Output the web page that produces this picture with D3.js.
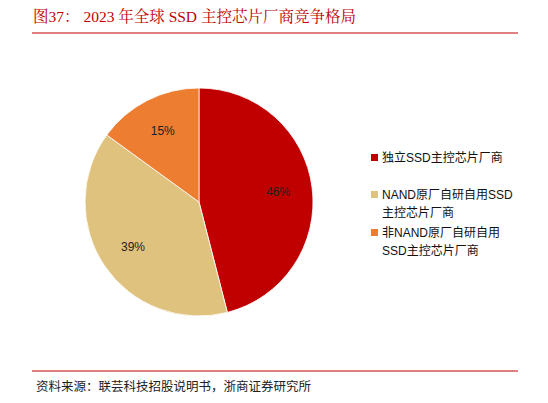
<!DOCTYPE html>
<html><head><meta charset="utf-8">
<script src="https://cdn.jsdelivr.net/npm/d3@7"></script>
<style>body{margin:0;background:#fff}</style></head>
<body><svg id="c" width="548" height="403"></svg>
<script>
const categories=["独立SSD主控芯片厂商","NAND原厂自研自用SSD主控芯片厂商","非NAND原厂自研自用SSD主控芯片厂商"];
const values=[46,39,15];
const colors=["#c00000","#dfc27d","#ed7d31"];
const legendLines=[["独立SSD主控芯片厂商"],["NAND原厂自研自用SSD","主控芯片厂商"],["非NAND原厂自研自用","SSD主控芯片厂商"]];
const svg=d3.select("#c");
const cjk="'Noto Sans CJK SC','Noto Sans',sans-serif";
svg.append("text").attr("x",33).attr("y",22).attr("fill","#c00000").attr("font-size",15.5)
 .attr("font-family","'Liberation Serif','Noto Serif CJK SC','Noto Sans CJK SC',serif").text("图37：  2023 年全球 SSD 主控芯片厂商竞争格局");
svg.append("line").attr("x1",32).attr("x2",518).attr("y1",33).attr("y2",33).attr("stroke","#c00000").attr("stroke-width",1);
svg.append("line").attr("x1",32).attr("x2",518).attr("y1",371).attr("y2",371).attr("stroke","#c00000").attr("stroke-width",1);
svg.append("text").attr("x",36).attr("y",391).attr("font-size",12.5).attr("fill","#222").attr("font-family",cjk).text("资料来源：联芸科技招股说明书，浙商证券研究所");
const pie=d3.pie().sort(null).value(d=>d)(values);
const r=114, g=svg.append("g").attr("transform","translate(199,202)");
const arc=d3.arc().innerRadius(0).outerRadius(r);
g.selectAll("path").data(pie).join("path").attr("d",arc).attr("fill",(d,i)=>colors[i]).attr("stroke","#fff").attr("stroke-width",0.8);
const la=d3.arc().innerRadius(r*0.7).outerRadius(r*0.7);
g.selectAll("text").data(pie).join("text").attr("transform",d=>`translate(${la.centroid(d)})`)
 .attr("text-anchor","middle").attr("dy","0.35em").attr("font-size",12).attr("font-family","Arial,'Liberation Sans',sans-serif").attr("fill","#222").text(d=>d.data+"%");
const ly=[158,195,233];
legendLines.forEach((ls,i)=>{
 svg.append("rect").attr("x",371).attr("y",ly[i]-4).attr("width",7).attr("height",7).attr("fill",colors[i]);
 ls.forEach((t,j)=>svg.append("text").attr("x",382).attr("y",ly[i]+4+j*18).attr("font-size",12).attr("fill","#111").attr("font-family","Arial,'Liberation Sans','Noto Sans CJK SC',sans-serif").text(t));
});
</script></body></html>
